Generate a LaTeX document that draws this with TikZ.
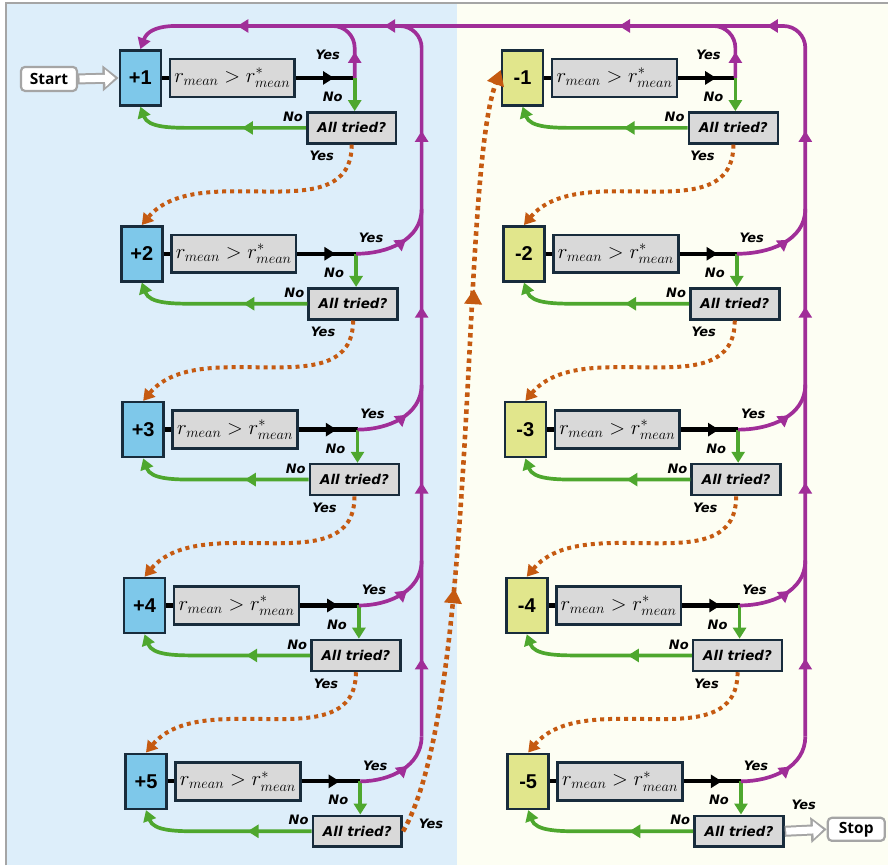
\documentclass[tikz,border=0pt]{standalone}
\usepackage{fontspec}
\setmainfont{Open Sans}
\newfontfamily\numfont{Liberation Sans}
\newfontfamily\lblfont{DejaVu Sans}
\usepackage{xcolor}
\usetikzlibrary{arrows.meta,decorations.markings}

\definecolor{pbox}{RGB}{126,200,234}
\definecolor{mbox}{RGB}{225,230,140}
\definecolor{cbox}{RGB}{217,217,217}
\definecolor{edge}{RGB}{24,44,60}
\definecolor{yescol}{RGB}{160,46,152}
\definecolor{nocol}{RGB}{78,167,46}
\definecolor{nextcol}{RGB}{197,90,17}
\definecolor{leftbg}{RGB}{221,238,250}
\definecolor{rightbg}{RGB}{253,254,243}
\definecolor{frame}{RGB}{165,165,165}

\begin{document}
\begin{tikzpicture}[x=1pt,y=-1pt,
  bx/.style={draw=edge,line width=2.6pt,minimum width=41pt,minimum height=55pt,inner sep=0pt,font=\numfont\fontsize{20}{20}\selectfont\bfseries},
  cond/.style={draw=edge,fill=cbox,line width=2.6pt,minimum width=125pt,minimum height=38pt,inner sep=0pt,font=\fontsize{20.74}{20.74}\selectfont},
  tried/.style={draw=edge,fill=cbox,line width=2.6pt,minimum width=89pt,minimum height=31pt,inner sep=0pt,font=\lblfont\fontsize{13.5}{13.5}\selectfont\bfseries\itshape},
  lbl/.style={inner sep=0pt,font=\lblfont\fontsize{13}{13}\selectfont\bfseries\itshape},
  term/.style={draw=frame,fill=white,rounded corners=4pt,line width=2.2pt,minimum width=56pt,minimum height=24pt,inner sep=0pt,font=\fontsize{15.5}{15.5}\selectfont\bfseries},
  tri/.tip={Triangle[length=11pt,width=13pt]},
  bigtri/.tip={Triangle[length=15pt,width=17pt]},
  yesln/.style={draw=yescol,line width=3.7pt},
  noln/.style={draw=nocol,line width=3.7pt},
  chk/.style={draw=black,line width=4.3pt},
  nxt/.style={draw=nextcol,line width=4pt,dash pattern=on 4pt off 4pt},
  midarr/.style={postaction={decorate},decoration={markings,mark=at position #1 with {\arrow{tri}}}},
  hollow/.style={draw=white,line width=7pt,-{Triangle[length=10pt,width=17pt]},shorten >=3.5pt,shorten <=1.5pt,
    preaction={draw=frame,line width=11pt,-{Triangle[length=16pt,width=25pt]},shorten >=0pt,shorten <=0pt}}]

 % two panels
 \fill[leftbg] (6,3) rectangle (457,866);
 \fill[rightbg] (457,3) rectangle (889,866);
 \draw[frame,line width=1.5pt] (6,866) -- (6,3) -- (889,3);
 \useasboundingbox (0,0) rectangle (889,866);

 \foreach \i in {1,...,5}{
   \pgfmathsetmacro\yy{78+176*(\i-1)}
   \pgfmathsetmacro\dx{1.4*(\i-1)}
   \node[bx,fill=pbox] (p\i) at (140.5+\dx,\yy) {+\i};
   \node[cond] (pc\i) at (232.5+\dx,\yy) {$r_{mean} > r^*_{mean}$};
   \coordinate (pj\i) at (355+\dx,\yy);
   \node[tried] (pt\i) at (352+\dx,\yy+50) {All tried?};
   \coordinate (pv\i) at (422,\yy-45);
   \node[bx,fill=mbox] (m\i) at (523+\dx,\yy) {-\i};
   \node[cond] (mc\i) at (615+\dx,\yy) {$r_{mean} > r^*_{mean}$};
   \coordinate (mj\i) at (736+\dx,\yy);
   \node[tried] (mt\i) at (734+\dx,\yy+50) {All tried?};
   \coordinate (mv\i) at (806,\yy-45);
 }
 \node[term] (start) at (49,79) {Start};
 \node[term,minimum width=57pt,minimum height=23pt] (stop) at (857,830) {Stop};
 \coordinate (ptop) at (300,26);
 \coordinate (mtop) at (684,26);
 \coordinate (lvtop) at (380,26);
 \coordinate (tl) at (205,26);

 \draw[hollow] (start.east) -- (p1.west);
 \draw[hollow] (mt5.east) -- (stop.west);

 \foreach \c in {p,m}{
   \foreach \i in {1,...,5}{
     \draw[chk] (\c\i) -- (\c c\i);
     \draw[chk,midarr=38pt] (\c c\i.east) -- (\c j\i);
     \draw[noln,-tri] (\c j\i) -- (\c j\i |- \c t\i.north);
     \draw[noln,-tri,midarr=64pt] (\c t\i.west) -- ++(-112,0) to[out=180,in=-70] (\c\i.south);
     \node[lbl] at ([shift={(-22,19)}]\c j\i) {No};
     \node[lbl] at ([shift={(-13,-11)}]\c t\i.west) {No};
     \ifnum\i=1
       \draw[yesln,rounded corners=22pt,midarr=26pt] (\c j\i) |- (\c top);
       \node[lbl] at ([shift={(-27,-23)}]\c j\i) {Yes};
     \else
       \draw[yesln,midarr=0.6] (\c j\i) to[out=0,in=-90] (\c v\i);
       \node[lbl] at ([shift={(15,-16)}]\c j\i) {Yes};
     \fi
   }
   \foreach \i [evaluate=\i as \j using int(\i+1)] in {1,...,4}{
     \draw[nxt,-tri] (\c t\i.south) to[out=-90,in=50] (\c\j.north);
     \node[lbl] at ([shift={(-33,78)}]\c j\i) {Yes};
   }
 }
 \node[lbl] at ([shift={(28,-7)}]pt5.east) {Yes};
 \node[lbl] at ([shift={(19,-26)}]mt5.east) {Yes};

 % loops back to the top
 \draw[yesln,rounded corners=22pt,postaction={decorate},decoration={markings,
   mark=at position 78pt with {\arrow{tri}},mark=at position 254pt with {\arrow{tri}},
   mark=at position 430pt with {\arrow{tri}},mark=at position 606pt with {\arrow{tri}}}]
   (pv5) |- (lvtop);
 \draw[yesln,-tri,postaction={decorate},decoration={markings,
   mark=at position 78pt with {\arrow{tri}},mark=at position 254pt with {\arrow{tri}},
   mark=at position 430pt with {\arrow{tri}},mark=at position 606pt with {\arrow{tri}},
   mark=at position 740pt with {\arrow{tri}},mark=at position 888pt with {\arrow{tri}},
   mark=at position 1123pt with {\arrow{tri}},mark=at position 1270pt with {\arrow{tri}}}]
   (mv5) [rounded corners=22pt] |- (tl) [sharp corners] to[out=180,in=70] (p1.north);

 % from +5 over to -1
 \draw[nxt,line width=4.6pt,dash pattern=on 4.5pt off 4pt,-bigtri,postaction={decorate},decoration={markings,
   mark=at position 250pt with {\arrow{bigtri}},mark=at position 550pt with {\arrow{bigtri}}}]
   (pt5.east) .. controls (480,700) and (460,180) .. (m1.160);
\end{tikzpicture}
\end{document}
